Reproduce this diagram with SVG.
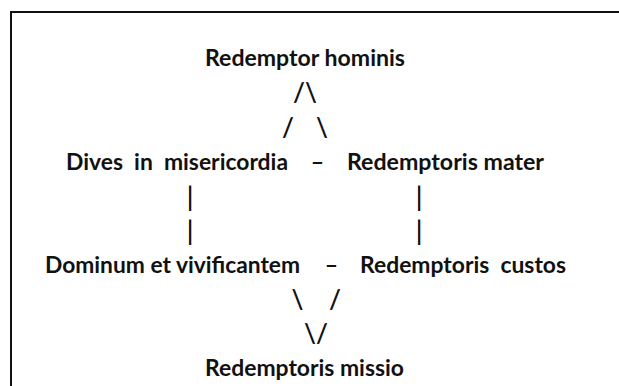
<svg xmlns="http://www.w3.org/2000/svg" width="619" height="386" viewBox="0 0 619 386">
<style>
text{font-family:"Lato","Open Sans","Liberation Sans",sans-serif;font-weight:bold;font-size:23px;fill:#111;white-space:pre}
.c{text-anchor:middle}
.s{font-size:26px;font-weight:600}
</style>
<rect width="619" height="386" fill="#fff"/>
<path d="M11,386V12H619" fill="none" stroke="#111" stroke-width="2"/>
<g id="n-hominis"><text x="205" y="66" textLength="200" lengthAdjust="spacingAndGlyphs">Redemptor hominis</text></g>
<g id="n-dives"><text x="66" y="170" textLength="222" lengthAdjust="spacingAndGlyphs">Dives  in  misericordia</text></g>
<g id="n-mater"><text x="347" y="170" textLength="197" lengthAdjust="spacingAndGlyphs">Redemptoris mater</text></g>
<g id="n-dominum"><text x="45" y="273" textLength="255" lengthAdjust="spacingAndGlyphs">Dominum et vivificantem</text></g>
<g id="n-custos"><text x="360" y="273" textLength="206" lengthAdjust="spacingAndGlyphs">Redemptoris  custos</text></g>
<g id="n-missio"><text x="205" y="376" textLength="199" lengthAdjust="spacingAndGlyphs">Redemptoris missio</text></g>
<g id="connectors">
<text class="c s" x="305" y="102">/\</text>
<text class="c s" x="288" y="137">/</text>
<text class="c s" x="322" y="137">\</text>
<text class="c" x="317.5" y="170">–</text>
<text class="c s" x="190" y="206">|</text>
<text class="c s" x="419" y="206">|</text>
<text class="c s" x="190" y="240">|</text>
<text class="c s" x="419" y="240">|</text>
<text class="c" x="331.5" y="273">–</text>
<text class="c s" x="297.5" y="309">\</text>
<text class="c s" x="335" y="309">/</text>
<text class="c s" x="316" y="343">\/</text>
</g>
</svg>
